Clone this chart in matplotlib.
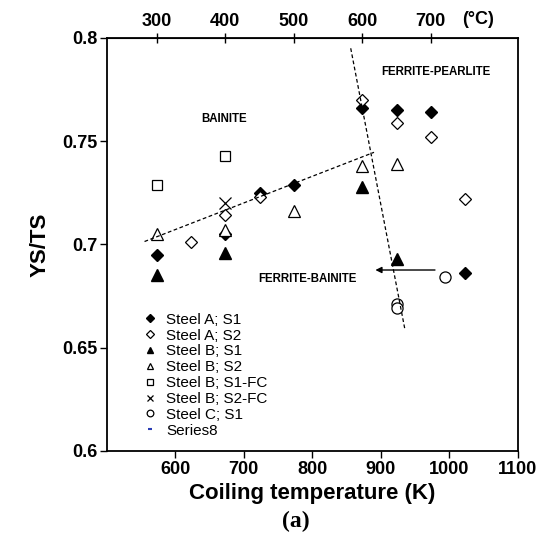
import matplotlib
matplotlib.use("Agg")
import matplotlib.pyplot as plt

# Steel A; S1
a1_x = [573, 673, 723, 773, 873, 923, 973, 1023]
a1_y = [0.695, 0.705, 0.725, 0.729, 0.766, 0.765, 0.764, 0.686]
# Steel A; S2
a2_x = [623, 673, 723, 873, 923, 973, 1023]
a2_y = [0.701, 0.714, 0.723, 0.770, 0.759, 0.752, 0.722]
# Steel B; S1
b1_x = [573, 673, 873, 923]
b1_y = [0.685, 0.696, 0.728, 0.693]
# Steel B; S2
b2_x = [573, 673, 773, 873, 923]
b2_y = [0.705, 0.707, 0.716, 0.738, 0.739]
# Steel B; S1-FC
b1fc_x = [573, 673]
b1fc_y = [0.729, 0.743]
# Steel B; S2-FC
b2fc_x = [673]
b2fc_y = [0.720]
# Steel C; S1
c1_x = [993, 923, 923]
c1_y = [0.684, 0.671, 0.669]

# dashed boundary lines
bainite_line_x = [555, 890]
bainite_line_y = [0.7014, 0.7446]
ferrite_line_x = [856, 935]
ferrite_line_y = [0.795, 0.659]

# arrow (from, to)
arrow_x = [979, 892]
arrow_y = [0.6876, 0.6876]

celsius_ticks = [300, 400, 500, 600, 700]
kelvin_ticks = [600, 700, 800, 900, 1000, 1100]
ys_ticks = [0.6, 0.65, 0.7, 0.75, 0.8]
ys_labels = ["0.6", "0.65", "0.7", "0.75", "0.8"]

plt.rcParams['font.family'] = ['Liberation Sans', 'DejaVu Sans']

fig = plt.figure(figsize=(5.48, 5.58), dpi=100)
ax = fig.add_axes([0.195, 0.192, 0.75, 0.740])

ms = 8
ax.plot(a1_x, a1_y, ls='none', marker='D', ms=6.3, mfc='black', mec='black', mew=1, label='Steel A; S1')
ax.plot(a2_x, a2_y, ls='none', marker='D', ms=6.3, mfc='white', mec='black', mew=0.9, label='Steel A; S2')
ax.plot(b1_x, b1_y, ls='none', marker='^', ms=ms, mfc='black', mec='black', mew=1, label='Steel B; S1')
ax.plot(b2_x, b2_y, ls='none', marker='^', ms=ms, mfc='white', mec='black', mew=0.9, label='Steel B; S2')
ax.plot(b1fc_x, b1fc_y, ls='none', marker='s', ms=7.8, mfc='white', mec='black', mew=0.9, label='Steel B; S1-FC')
ax.plot(b2fc_x, b2fc_y, ls='none', marker='x', ms=ms, mec='black', mew=0.9, label='Steel B; S2-FC')
ax.plot(c1_x, c1_y, ls='none', marker='o', ms=ms, mfc='white', mec='black', mew=0.9, label='Steel C; S1')
ax.plot([], [], ls='none', marker='_', ms=4, mec='#2a3cb4', mew=1.5, label='Series8')

ax.plot(bainite_line_x, bainite_line_y, color='black', lw=0.9, dashes=(3, 2))
ax.plot(ferrite_line_x, ferrite_line_y, color='black', lw=0.9, dashes=(3, 2))
ax.annotate('', xy=(arrow_x[1], arrow_y[1]), xytext=(arrow_x[0], arrow_y[0]),
            arrowprops=dict(arrowstyle='-|>', color='black', lw=1, mutation_scale=9,
                            shrinkA=0, shrinkB=0))

ax.text(671, 0.7608, 'BAINITE', fontsize=8.3, fontweight='bold', ha='center', va='center')
ax.text(981, 0.7834, 'FERRITE-PEARLITE', fontsize=8.3, fontweight='bold', ha='center', va='center')
ax.text(793, 0.6833, 'FERRITE-BAINITE', fontsize=8.3, fontweight='bold', ha='center', va='center')

ax.set_xlim(500, 1100)
ax.set_ylim(0.6, 0.8)
ax.set_xticks(kelvin_ticks)
ax.set_yticks(ys_ticks)
ax.set_yticklabels(ys_labels)
ax.tick_params(axis='both', direction='out', length=5, width=1, labelsize=13, pad=2)
for lab in ax.get_xticklabels() + ax.get_yticklabels():
    lab.set_fontweight('bold')
for sp in ax.spines.values():
    sp.set_linewidth(1.3)

sec = ax.secondary_xaxis('top', functions=(lambda k: k - 273, lambda c: c + 273))
sec.set_xticks(celsius_ticks)
sec.tick_params(direction='inout', length=7, width=1, labelsize=13, pad=2)
for lab in sec.get_xticklabels():
    lab.set_fontweight('bold')
ax.text(0.903, 1.023, '(°C)', transform=ax.transAxes, fontsize=13, fontweight='bold',
        ha='center', va='bottom')

ax.set_xlabel('Coiling temperature (K)', fontsize=16, fontweight='bold', labelpad=4)
ax.set_ylabel('YS/TS', fontsize=16, fontweight='bold', labelpad=8)
fig.text(0.54, 0.065, '(a)', fontsize=17, fontweight='bold', family='Liberation Serif',
         ha='center', va='center')

ax.legend(loc='upper left', bbox_to_anchor=(0.067, 0.353), frameon=False, fontsize=11,
          handlelength=1.0, handletextpad=0.6, labelspacing=0.12, borderpad=0,
          markerscale=0.6)

fig.savefig('out.png', dpi=100)
